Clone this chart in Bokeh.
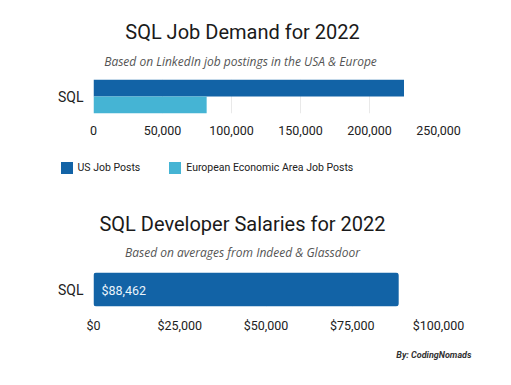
from bokeh.plotting import figure
from bokeh.models import (FactorRange, Range1d, FixedTicker, NumeralTickFormatter,
                          Label, LabelSet, Legend, LegendItem, ColumnDataSource)
from bokeh.core.properties import value
from bokeh.layouts import column
from bokeh.transform import dodge
from bokeh.embed import file_html
from bokeh.resources import INLINE

# ---- data ----
categories = ["SQL"]
us_job_posts = [225000]
eea_job_posts = [82000]
series_names = ["US Job Posts", "European Economic Area Job Posts"]
demand_ticks = [0, 50000, 100000, 150000, 200000, 250000]

salaries = [88462]
salary_labels = ["$88,462"]
salary_ticks = [0, 25000, 50000, 75000, 100000]

title1 = "SQL Job Demand for 2022"
subtitle1 = "Based on LinkedIn job postings in the USA & Europe"
title2 = "SQL Developer Salaries for 2022"
subtitle2 = "Based on averages from Indeed & Glassdoor"
credit = "By: CodingNomads"

US_COLOR = "#1263a6"
EEA_COLOR = "#45b4d4"
GRID = "#e9e9e9"
FONT = "Roboto"
W = 510


def blank(height, y_range=None):
    p = figure(width=W, height=height, x_range=Range1d(0, 1),
               y_range=y_range if y_range is not None else Range1d(0, 1),
               x_axis_type=None, y_axis_type=None, output_backend="svg",
               toolbar_location=None, min_border=0, frame_align=False)
    p.outline_line_color = None
    p.border_fill_color = "white"
    p.background_fill_color = "white"
    return p


def add_text(p, x, y, text, size, color, style="normal", font=FONT, align="center"):
    p.add_layout(Label(x=x, y=y, x_units="screen", y_units="screen", text=text,
                       text_align=align, text_baseline="alphabetic",
                       text_font=font, text_font_size=size, text_color=color,
                       text_font_style=style))


def bar_fig(height, top, bottom, x_end, ticks, fmt, standoff):
    p = figure(width=W, height=height, y_range=FactorRange(*categories),
               x_range=Range1d(0, x_end), output_backend="svg", toolbar_location=None,
               min_border_left=93, min_border_right=W - 93 - 345,
               min_border_top=top, min_border_bottom=bottom)
    p.outline_line_color = None
    p.border_fill_color = "white"
    xa = p.xaxis[0]
    xa.ticker = FixedTicker(ticks=ticks)
    xa.formatter = NumeralTickFormatter(format=fmt)
    xa.axis_line_color = None
    xa.major_tick_line_color = None
    xa.minor_tick_line_color = None
    xa.major_label_text_font = FONT
    xa.major_label_text_font_size = "12.5px"
    xa.major_label_text_color = "#222222"
    xa.major_label_standoff = standoff
    ya = p.yaxis[0]
    ya.axis_line_color = None
    ya.major_tick_line_color = None
    ya.minor_tick_line_color = None
    ya.major_label_text_font = FONT
    ya.major_label_text_font_size = "14px"
    ya.major_label_text_color = "#222222"
    ya.major_label_standoff = 4
    p.ygrid.grid_line_color = None
    p.xgrid.grid_line_color = GRID
    return p


# ---- top chart: titles ----
t1 = blank(72)
add_text(t1, 242, 41, title1, "20px", "#1a1a1a")
add_text(t1, 240, 11, subtitle1, "12px", "#555555", style="italic", font="Open Sans")

# ---- top chart: bars ----
p1 = bar_fig(73, 7, 32, 250000, demand_ticks, "0,0", 6)
src1 = ColumnDataSource(dict(cat=categories, us=us_job_posts, eea=eea_job_posts))
p1.hbar(y=dodge("cat", 0.25, range=p1.y_range), left=0, right="us", height=0.5,
        source=src1, fill_color=US_COLOR, line_color=None)
p1.hbar(y=dodge("cat", -0.25, range=p1.y_range), left=0, right="eea", height=0.5,
        source=src1, fill_color=EEA_COLOR, line_color=None)

# ---- top chart: legend (keys share the series data; the key bars are not drawn) ----
lg = blank(45, y_range=FactorRange(*categories))
k_us = lg.hbar(y="cat", left=0, right="us", height=1, source=src1, visible=False,
               fill_color=US_COLOR, line_color=None)
k_eea = lg.hbar(y="cat", left=0, right="eea", height=1, source=src1, visible=False,
                fill_color=EEA_COLOR, line_color=None)
legend = Legend(items=[LegendItem(label=series_names[0], renderers=[k_us]),
                       LegendItem(label=series_names[1], renderers=[k_eea])],
                location=(58.5, 15), orientation="horizontal", click_policy="none",
                padding=0, margin=0, spacing=27, label_standoff=4,
                glyph_width=15, glyph_height=15, label_height=15,
                label_text_font=FONT, label_text_font_size="10.5px",
                label_text_color="#222222", label_text_baseline="middle",
                border_line_alpha=0, background_fill_alpha=0)
lg.add_layout(legend)

# ---- bottom chart: titles ----
t2 = blank(72)
add_text(t2, 242, 39, title2, "20px", "#1a1a1a")
add_text(t2, 242, 10, subtitle2, "12px", "#555555", style="italic", font="Open Sans")

# ---- bottom chart: bars ----
p2 = bar_fig(75, 10, 31, 100000, salary_ticks, "$0,0", 5)
src2 = ColumnDataSource(dict(cat=categories, sal=salaries, lab=salary_labels))
p2.hbar(y="cat", left=0, right="sal", height=1.0, source=src2,
        fill_color=US_COLOR, line_color=None, border_radius=3)
p2.add_layout(LabelSet(x=0, y="cat", text="lab", source=src2, x_offset=8, y_offset=-1,
                       text_baseline="middle", text_align="left",
                       text_font=value(FONT), text_font_size=value("12.5px"),
                       text_color="#eaf4fb"))

# ---- credit ----
cr = blank(46)
add_text(cr, 471, 29, credit, "9px", "#333333", style="bold italic", align="right")

layout = column(t1, p1, lg, t2, p2, cr, spacing=0)
open("out.html", "w").write(file_html(layout, INLINE))
